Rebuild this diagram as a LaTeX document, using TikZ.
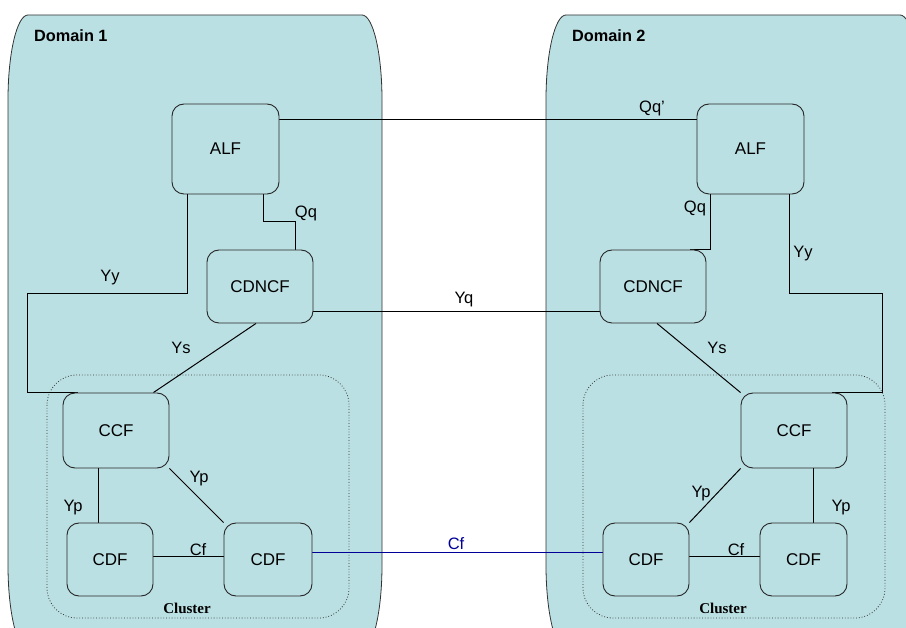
\documentclass[tikz,border=0pt]{standalone}
\usepackage{fontspec}
\setmainfont{Liberation Sans}
\newfontfamily\clusterfont{Liberation Serif}
\definecolor{domainfill}{RGB}{187,224,227}
\definecolor{cfblue}{RGB}{0,0,153}
\pgfdeclarelayer{domainlayer}
\pgfdeclarelayer{wirelayer}
\pgfsetlayers{domainlayer,wirelayer,main}
\newcommand{\domainshape}[3]{
    \begin{scope}[xshift=#1]
    \draw[domainarea] (28,15) -- (362,15)
        arc[start angle=-90,end angle=0,x radius=20,y radius=85] -- (382,565)
        arc[start angle=0,end angle=90,x radius=20,y radius=85] -- (28,650)
        arc[start angle=90,end angle=180,x radius=20,y radius=85] -- (8,100)
        arc[start angle=180,end angle=270,x radius=20,y radius=85] -- cycle;
    \node[title,anchor=west] (#2) at (34,36) {#3};
    \end{scope}
}
\newcommand{\clusterframe}[2]{
    \begin{scope}[xshift=#1]
    \draw[clusterarea] (47,375) rectangle (349,618);
    \node[clusterlbl] (#2) at (187,608) {Cluster};
    \end{scope}
}

\begin{document}
\begin{tikzpicture}[x=1pt,y=-1pt,
    domainarea/.style={draw=black!80,fill=domainfill,line width=0.8pt},
    clusterarea/.style={draw=black!80,dotted,line width=0.8pt,rounded corners=30pt},
    func/.style={draw=black!85,fill=domainfill,rounded corners=12pt,line width=0.9pt,
        minimum width=106pt,minimum height=73pt,font=\fontsize{17}{19}\selectfont},
    wire/.style={line width=1pt},
    lbl/.style={font=\fontsize{16.5}{18}\selectfont,inner sep=0pt},
    title/.style={font=\fontsize{16.3}{18}\selectfont\bfseries,inner sep=0pt},
    clusterlbl/.style={font=\fontsize{15}{17}\selectfont\clusterfont\bfseries,inner sep=0pt}]
        \useasboundingbox (0,0) rectangle (906,628);
        \begin{pgfonlayer}{domainlayer}
        \begin{scope}
        \clip (0,0) rectangle (906,628);
        \domainshape{0pt}{domA}{Domain 1}
        \domainshape{538pt}{domB}{Domain 2}
        \clusterframe{0pt}{clA}
        \clusterframe{536pt}{clB}
        \end{scope}
        \end{pgfonlayer}

        \node[func,minimum width=107pt,minimum height=90pt] (alfA) at (225.5,149) {ALF};
        \node[func] (cdncfA) at (260,286.5) {CDNCF};
        \node[func,minimum height=75pt] (ccfA) at (116,430.5) {CCF};
        \node[func,minimum width=86pt] (cdfAa) at (110,559.5) {CDF};
        \node[func,minimum width=88pt] (cdfAb) at (268,559.5) {CDF};
        \node[func,minimum width=107pt,minimum height=90pt] (alfB) at (750.5,149) {ALF};
        \node[func] (cdncfB) at (653,286.5) {CDNCF};
        \node[func,minimum height=75pt] (ccfB) at (794,430.5) {CCF};
        \node[func,minimum width=86pt] (cdfBa) at (646,559.5) {CDF};
        \node[func,minimum width=87pt] (cdfBb) at (803.5,559.5) {CDF};

        \begin{pgfonlayer}{wirelayer}
        \draw[wire] ([yshift=29pt]alfA.east) -- ([yshift=29pt]alfB.west);
        \draw[wire] ([xshift=16pt]alfA.south west) |- (27,294) |- ([xshift=15pt]ccfA.north west);
        \draw[wire] ([xshift=-16pt]alfA.south east) -- ++(0,27) -| ([xshift=35pt]cdncfA.north);
        \draw[wire] ([yshift=-25.5pt]cdncfA.east) -- ([yshift=-25.5pt]cdncfB.west);
        \draw[wire] ([xshift=-4pt]cdncfA.south) -- ([xshift=-16pt]ccfA.north east);
        \draw[wire] ([xshift=-18pt]ccfA.south) -- ([xshift=-12pt]cdfAa.north);
        \draw[wire] (ccfA.south east) -- (cdfAb.north west);
        \draw[wire] ([yshift=3.5pt]cdfAa.east) -- ([yshift=3.5pt]cdfAb.west);
        \draw[wire] ([xshift=14pt]alfB.south west) |- ([xshift=-16pt]cdncfB.north east);
        \draw[wire] ([xshift=-15pt]alfB.south east) |- (882,294) |- ([xshift=-15pt]ccfB.north east);
        \draw[wire] ([xshift=4pt]cdncfB.south) -- (ccfB.north west);
        \draw[wire] ([xshift=19pt]ccfB.south) -- ([xshift=9.5pt]cdfBb.north);
        \draw[wire] (ccfB.south west) -- (cdfBa.north east);
        \draw[wire] ([yshift=3.5pt]cdfBa.east) -- ([yshift=3.5pt]cdfBb.west);
        \draw[wire,cfblue] ([yshift=7.5pt]cdfAb.east) -- ([yshift=7.5pt]cdfBa.west);
        \end{pgfonlayer}

        \node[lbl] (qqAB) at (652,108) {Qq'};
        \node[lbl] (qqA) at (306,213) {Qq};
        \node[lbl] (yyA) at (110,278) {Yy};
        \node[lbl] (yq) at (464,300) {Yq};
        \node[lbl] (ysA) at (181,348) {Ys};
        \node[lbl] (ypAa) at (73,508) {Yp};
        \node[lbl] (ypAb) at (199,479) {Yp};
        \node[lbl] (cfA) at (198,550) {Cf};
        \node[lbl,text=cfblue] (cfAB) at (456,544) {Cf};
        \node[lbl] (qqB) at (695,208) {Qq};
        \node[lbl] (yyB) at (803,254) {Yy};
        \node[lbl] (ysB) at (717,348) {Ys};
        \node[lbl] (ypBa) at (701,494) {Yp};
        \node[lbl] (ypBb) at (841,508) {Yp};
        \node[lbl] (cfB) at (736,550) {Cf};
    \end{tikzpicture}
\end{document}
